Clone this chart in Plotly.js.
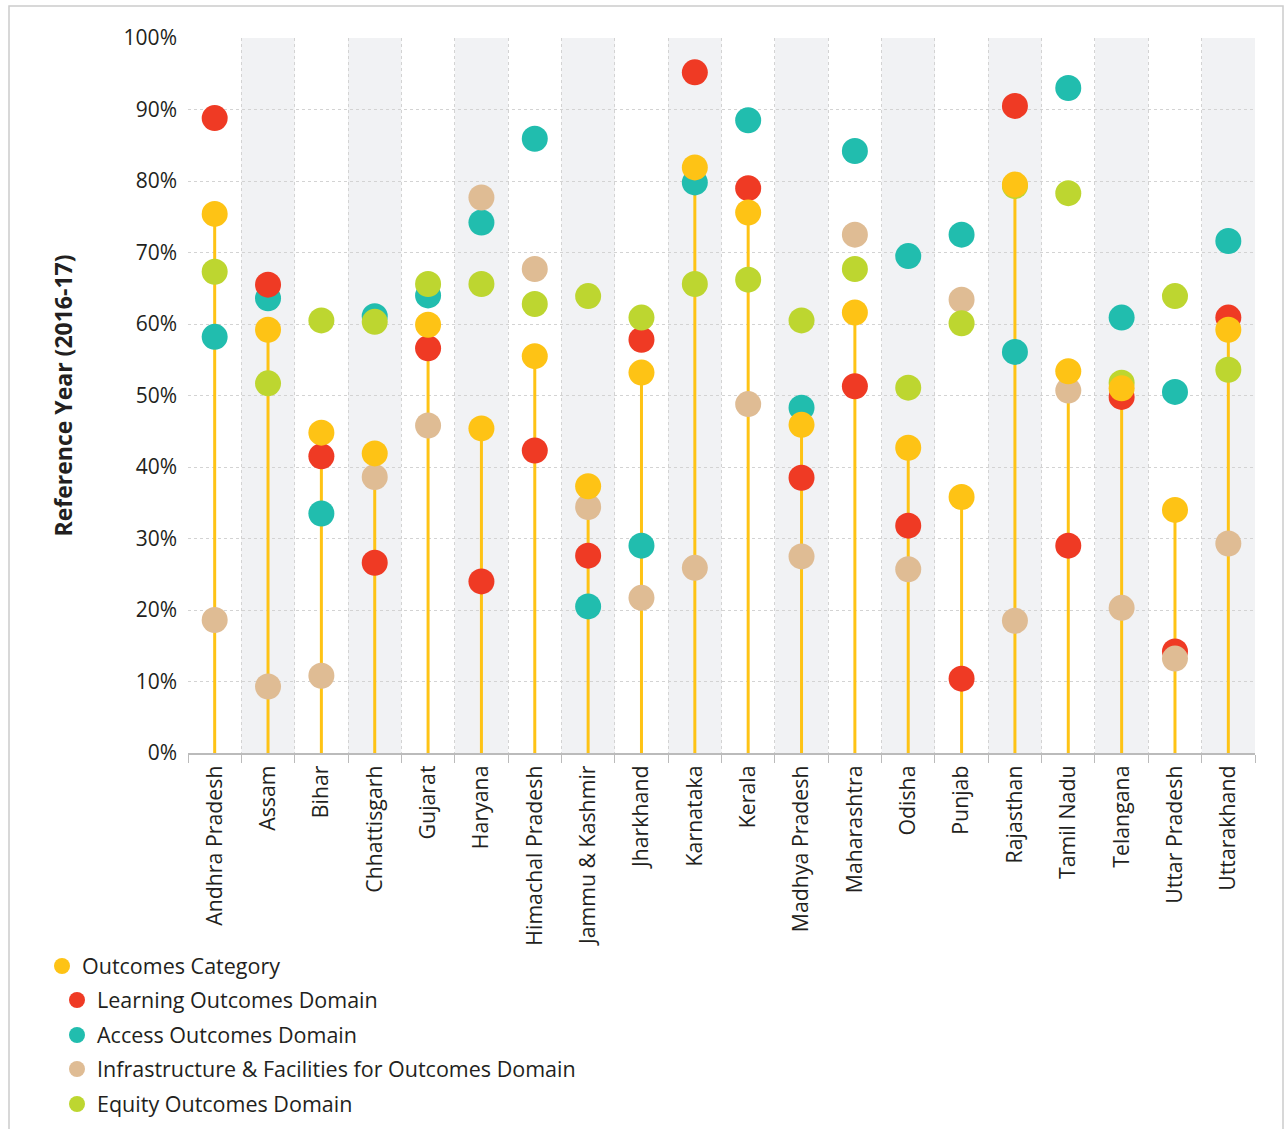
<!DOCTYPE html>
<html>
<head>
<meta charset="utf-8">
<script src="https://cdn.plot.ly/plotly-3.0.1.min.js"></script>
<style>html,body{margin:0;padding:0;background:#fff;}#chart{width:1287px;height:1129px;}</style>
</head>
<body>
<div id="chart"></div>
<script>
const states = ["Andhra Pradesh","Assam","Bihar","Chhattisgarh","Gujarat","Haryana","Himachal Pradesh","Jammu & Kashmir","Jharkhand","Karnataka","Kerala","Madhya Pradesh","Maharashtra","Odisha","Punjab","Rajasthan","Tamil Nadu","Telangana","Uttar Pradesh","Uttarakhand"];
const outcomesCategory = [75.4, 59.2, 44.8, 41.9, 59.9, 45.4, 55.5, 37.3, 53.2, 81.9, 75.6, 45.9, 61.6, 42.7, 35.8, 79.5, 53.4, 51.0, 34.0, 59.2];
const learningDomain   = [88.8, 65.5, 41.5, 26.6, 56.6, 24.0, 42.3, 27.6, 57.8, 95.2, 79.0, 38.5, 51.3, 31.8, 10.4, 90.5, 29.0, 49.8, 14.2, 60.9];
const accessDomain     = [58.2, 63.6, 33.5, 61.1, 64.0, 74.2, 85.9, 20.5, 29.0, 79.8, 88.5, 48.3, 84.2, 69.5, 72.5, 56.1, 93.0, 60.9, 50.5, 71.6];
const infraDomain      = [18.6, 9.3, 10.8, 38.6, 45.8, 77.7, 67.7, 34.4, 21.7, 25.9, 48.8, 27.5, 72.5, 25.7, 63.4, 18.5, 50.7, 20.3, 13.2, 29.3];
const equityDomain     = [67.3, 51.7, 60.5, 60.3, 65.6, 65.6, 62.8, 63.9, 60.9, 65.6, 66.2, 60.5, 67.7, 51.1, 60.1, 79.3, 78.3, 51.8, 63.9, 53.6];
const yTicks = [0,10,20,30,40,50,60,70,80,90,100];

const C = {yellow:"#FEC315", red:"#EF3A24", teal:"#21BDAE", tan:"#DFBC94", green:"#BDD630"};
const FONT = "Open Sans, Noto Sans, sans-serif";
const W = 1287, H = 1129, ML = 188, MR = 32, MT = 38, MB = 376;
const PW = W - ML - MR, PH = H - MT - MB;
const px2x = p => (p - ML) / PW;
const py2y = p => (H - MB - p) / PH;

// stems from 0 to the Outcomes Category value
const stemX = [], stemY = [];
states.forEach((s, i) => { stemX.push(s, s, null); stemY.push(0, outcomesCategory[i], null); });

function dots(name, vals, color, legendId) {
  return {type:"scatter", mode:"markers", name:name, x:states, y:vals,
    marker:{size:26, color:color, line:{width:0}}, legend:legendId, cliponaxis:false, hoverinfo:"x+y+name"};
}

const traces = [
  {type:"scatter", mode:"lines", x:stemX, y:stemY, line:{color:C.yellow, width:3}, showlegend:false, hoverinfo:"skip"},
  dots("Access Outcomes Domain", accessDomain, C.teal, "legend3"),
  dots("Learning Outcomes Domain", learningDomain, C.red, "legend2"),
  dots("Infrastructure & Facilities for Outcomes Domain", infraDomain, C.tan, "legend4"),
  dots("Equity Outcomes Domain", equityDomain, C.green, "legend5"),
  dots("Outcomes Category", outcomesCategory, C.yellow, "legend"),
];

const shapes = [];
states.forEach((s, i) => {
  if (i % 2 === 1) shapes.push({type:"rect", xref:"x", yref:"paper", x0:i-0.5, x1:i+0.5, y0:0, y1:1,
    fillcolor:"#F1F2F4", line:{width:0}, layer:"between"});
});
shapes.push({type:"rect", xref:"paper", yref:"paper", x0:px2x(9), x1:px2x(1283), y0:py2y(1140), y1:py2y(6),
  line:{color:"#CCCCCC", width:1.5}, fillcolor:"rgba(0,0,0,0)", layer:"below"});

function leg(xpx, ypx) {
  return {x:px2x(xpx), y:py2y(ypx), xanchor:"left", yanchor:"middle", orientation:"v",
    font:{family:FONT, size:21.5, color:"#231F20"}, bgcolor:"rgba(0,0,0,0)", borderwidth:0};
}

const layout = {
  width:W, height:H, margin:{l:ML, r:MR, t:MT, b:MB, autoexpand:false},
  paper_bgcolor:"#fff", plot_bgcolor:"#fff",
  font:{family:FONT, color:"#231F20"},
  xaxis:{type:"category", categoryorder:"array", categoryarray:states, range:[-0.5, states.length-0.5],
    tickson:"boundaries", ticks:"outside", ticklen:8, tickcolor:"#BBBBBB", tickwidth:1,
    showgrid:true, gridcolor:"#D3D3D3", griddash:"dot", gridwidth:1,
    showline:true, linecolor:"#BBBBBB", linewidth:2, ticklabelstandoff:2,
    tickangle:-90, tickfont:{family:FONT, size:21.3, color:"#231F20"}, zeroline:false, fixedrange:true, automargin:false},
  yaxis:{range:[0,100], tickvals:yTicks, ticktext:yTicks.map(v => v + "%"),
    showgrid:true, gridcolor:"#D3D3D3", griddash:"dot", gridwidth:1, zeroline:false, showline:false,
    ticks:"", tickfont:{family:FONT, size:21, color:"#231F20"}, ticklabelstandoff:10,
    title:{text:"Reference Year (2016-17)", font:{family:FONT, size:23, color:"#231F20", weight:"bold"}, standoff:44},
    fixedrange:true, automargin:false},
  shapes:shapes,
  showlegend:true,
  legend:leg(42, 966),
  legend2:leg(57, 1000),
  legend3:leg(57, 1035),
  legend4:leg(57, 1069),
  legend5:leg(57, 1104),
};

Plotly.newPlot("chart", traces, layout, {displayModeBar:false, staticPlot:true});
</script>
</body>
</html>
